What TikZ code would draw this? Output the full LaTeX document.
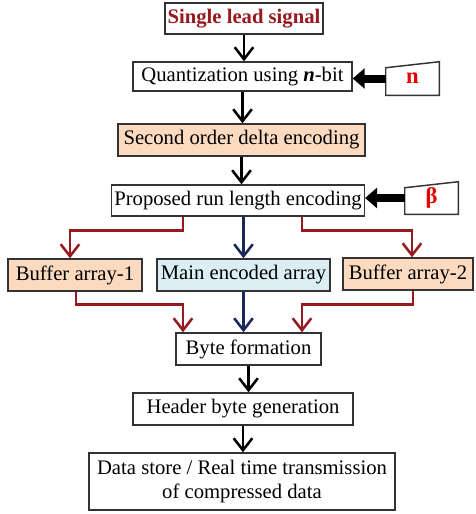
\documentclass[tikz,border=0pt]{standalone}
\usepackage{fontspec}
\setmainfont{Liberation Serif}
\usetikzlibrary{arrows.meta, positioning, calc}

\definecolor{peach}{RGB}{251,218,192}
\definecolor{paleblue}{RGB}{219,238,244}
\definecolor{darkred}{RGB}{150,26,30}
\definecolor{navy}{RGB}{28,40,90}
\definecolor{brightred}{RGB}{230,0,0}

\def\px{0.75pt}

\tikzset{
  box/.style={draw=black!80, line width=1.1pt, fill=white, inner sep=2pt, font=\fontsize{15.5}{18}\selectfont},
  peachbox/.style={box, fill=peach},
  bluebox/.style={box, fill=paleblue},
  flow/.style={line width=1.9pt, -{Straight Barb[length=9pt, width=14pt]}},
  redflow/.style={flow, darkred},
  blueflow/.style={flow, navy},
  bigarrow/.style={line width=6pt, -{Triangle[length=9pt, width=15pt]}},
  knob/.style={inner sep=0pt, text=brightred, font=\fontsize{17}{18}\selectfont\bfseries}
}

\begin{document}
\begin{tikzpicture}[x=\px, y=-\px]
            \useasboundingbox (0,0) rectangle (475,514);

            % Main chain
            \node[box, minimum width=158*\px, minimum height=31*\px, text=darkred, font=\fontsize{15.5}{18}\selectfont\bfseries] (sig) at (244,18.5) {Single lead signal};
            \node[box, minimum width=219*\px, minimum height=29*\px] (quant) at (242.5,76.5) {Quantization using \textbf{\textit{n}}-bit};
            \node[peachbox, minimum width=247*\px, minimum height=32*\px] (delta) at (241.5,140) {Second order delta encoding};
            \node[box, minimum width=250*\px, minimum height=31*\px] (rle) at (238,200.5) {Proposed run length encoding};

            % Three arrays
            \node[peachbox, minimum width=134*\px, minimum height=32*\px] (buf1) at (75,275) {Buffer array-1};
            \node[bluebox, minimum width=173*\px, minimum height=32*\px] (main) at (243.5,275) {Main encoded array};
            \node[peachbox, minimum width=130*\px, minimum height=32*\px] (buf2) at (408,274) {Buffer array-2};

            \node[box, minimum width=145*\px, minimum height=32*\px] (byte) at (248.5,349) {Byte formation};
            \node[box, minimum width=220*\px, minimum height=32*\px] (head) at (243,409) {Header byte generation};
            \node[box, minimum width=306*\px, minimum height=57*\px, align=center] (store) at (242,481.5) {Data store / Real time transmission\\of compressed data};

            % Parameter inputs
            \node[knob, minimum width=53*\px, minimum height=33*\px] (nin) at (412.5,78.5) {\raisebox{-5pt}{n}};
            \node[knob, minimum width=53*\px, minimum height=32*\px] (beta) at (431.5,198) {\raisebox{-4pt}{β}};
            \draw[black!80, line width=1.1pt] (nin.south west) -- (nin.south east) -- (nin.north east) -- ([yshift=-6*\px]nin.north west) -- cycle;
            \draw[black!80, line width=1.1pt] (beta.south west) -- (beta.south east) -- (beta.north east) -- ([yshift=-6*\px]beta.north west) -- cycle;
            \draw[bigarrow] (nin.west) -- (nin.west -| quant.east);
            \draw[bigarrow] (beta.west) -- (beta.west -| rle.east);

            % Vertical flow
            \draw[flow] (sig.south) -- (sig.south |- quant.north);
            \draw[flow] (quant.south) -- (quant.south |- delta.north);
            \draw[flow] (delta.south) -- (delta.south |- rle.north);
            \draw[flow] (byte.south) -- (byte.south |- head.north);
            \draw[flow] (head.south) -- (head.south |- store.north);

            % Split into arrays
            \draw[redflow] ([xshift=-55*\px]rle.south) -- ++(0,14) -| ([xshift=-5*\px]buf1.north);
            \draw[blueflow] (rle.south -| main.north) -- (main.north);
            \draw[redflow] ([xshift=64*\px]rle.south) -- ++(0,14) -| ([xshift=4*\px]buf2.north);

            % Merge into bytes
            \draw[redflow] ([xshift=1*\px]buf1.south) -- ++(0,13) -| ([xshift=-65.5*\px]byte.north);
            \draw[blueflow] (main.south) -- (main.south |- byte.north);
            \draw[redflow] ([xshift=5*\px]buf2.south) -- ++(0,14) -| ([xshift=53.5*\px]byte.north);
        \end{tikzpicture}
\end{document}
